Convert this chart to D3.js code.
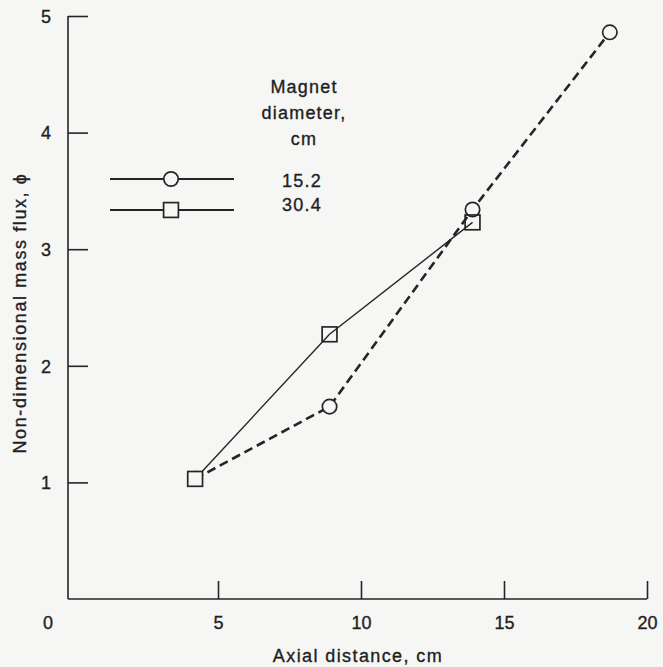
<!DOCTYPE html>
<html>
<head>
<meta charset="utf-8">
<script src="https://cdn.jsdelivr.net/npm/d3@7"></script>
<style>
  html, body { margin: 0; padding: 0; background: #f6f6f5; }
  svg { display: block; }
  text { font-family: "Liberation Sans", Arial, Helvetica, sans-serif; fill: #1f1f1f; stroke: #1f1f1f; stroke-width: 0.35px; }
</style>
</head>
<body>
<svg id="chart" width="663" height="667"></svg>
<script>
// Axial positions (cm) and non-dimensional mass flux for each magnet diameter
const seriesNames = ["15.2", "30.4"];
const axial152 = [4.2, 8.9, 13.9, 18.7];
const flux152  = [1.03, 1.65, 3.34, 4.86];
const axial304 = [4.2, 8.9, 13.9];
const flux304  = [1.03, 2.27, 3.23];

const xTicks = [5, 10, 15, 20];
const yTicks = [1, 2, 3, 4, 5];
const legendTitle = ["Magnet", "diameter,", "cm"];

const ink = "#252525";
const bg = "#f6f6f5";
const fontFamily = "'Liberation Sans', Arial, sans-serif";
const svg = d3.select("#chart");

const x = d3.scaleLinear().domain([0, 20]).range([75, 647]);
const y = d3.scaleLinear().domain([0, 5]).range([599, 16]);
const axisX = 68;   // left axis position
const axisY = 599;  // bottom axis position

// Left axis: ticks point into the plot
const gy = svg.append("g").attr("transform", `translate(${axisX},0)`)
  .call(d3.axisLeft(y).tickValues(yTicks).tickSizeInner(-20).tickSizeOuter(0).tickFormat(d3.format("d")));
gy.select(".domain").attr("d", `M0,${y(5)}V${axisY}`);
gy.selectAll(".tick text").attr("x", -17).attr("dy", "0.35em");

// Bottom axis: ticks point up
const gx = svg.append("g").attr("transform", `translate(0,${axisY})`)
  .call(d3.axisBottom(x).tickValues(xTicks).tickSizeInner(-18).tickSizeOuter(0).tickFormat(d3.format("d")));
gx.select(".domain").attr("d", `M${axisX},0H${x(20)}`);
gx.selectAll(".tick text").attr("y", 17).attr("dy", "0.71em");

svg.selectAll(".domain, .tick line").attr("stroke", ink).attr("stroke-width", 1.6);
svg.selectAll(".tick text").attr("fill", "#1f1f1f").attr("stroke", "#1f1f1f").attr("stroke-width", 0.35)
  .style("font-size", "18px").style("font-family", fontFamily);

// Shared origin label
svg.append("text").attr("x", axisX - 20).attr("y", axisY + 24)
  .attr("text-anchor", "middle").attr("dy", "0.35em")
  .style("font-size", "18px").text("0");

// Axis titles
svg.append("text").attr("x", 358).attr("y", 656)
  .attr("text-anchor", "middle").attr("dy", "0.35em")
  .style("font-size", "18px").style("letter-spacing", "1.4px")
  .text("Axial distance, cm");
svg.append("text").attr("transform", "translate(20,313) rotate(-90)")
  .attr("text-anchor", "middle").attr("dy", "0.35em")
  .style("font-size", "18px").style("letter-spacing", "1.6px")
  .text("Non-dimensional mass flux, \u03D5");

// Series lines
const line = d3.line().x(d => x(d[0])).y(d => y(d[1]));
const pts152 = d3.zip(axial152, flux152);
const pts304 = d3.zip(axial304, flux304);

svg.append("path").datum(pts304).attr("d", line)
  .attr("fill", "none").attr("stroke", ink).attr("stroke-width", 1.4);
svg.append("path").datum(pts152).attr("d", line)
  .attr("fill", "none").attr("stroke", ink).attr("stroke-width", 2.6)
  .attr("stroke-dasharray", "9,5");

// Markers
const r = 7.2, half = 7.4;
svg.selectAll(".c152").data(pts152).join("circle")
  .attr("cx", d => x(d[0])).attr("cy", d => y(d[1])).attr("r", r)
  .attr("fill", bg).attr("stroke", ink).attr("stroke-width", 1.7);
svg.selectAll(".s304").data(pts304).join("rect")
  .attr("x", d => x(d[0]) - half).attr("y", d => y(d[1]) - half)
  .attr("width", half * 2).attr("height", half * 2)
  .attr("fill", "none").attr("stroke", ink).attr("stroke-width", 1.7);
// the first square sits over the coincident circle
svg.select("rect").attr("fill", bg);

// Legend
const lg = svg.append("g");
legendTitle.forEach((t, i) => {
  lg.append("text").attr("x", 304).attr("y", 93 + i * 26)
    .attr("text-anchor", "middle").style("font-size", "18px").style("letter-spacing", "1.2px").text(t);
});
const legendRows = [{ name: seriesNames[0], shape: "circle", yy: 179, ty: 187 },
                    { name: seriesNames[1], shape: "square", yy: 210, ty: 211 }];
legendRows.forEach(rw => {
  lg.append("line").attr("x1", 110).attr("x2", 234).attr("y1", rw.yy).attr("y2", rw.yy)
    .attr("stroke", ink).attr("stroke-width", 2);
  if (rw.shape === "circle") {
    lg.append("circle").attr("cx", 171).attr("cy", rw.yy).attr("r", r)
      .attr("fill", bg).attr("stroke", ink).attr("stroke-width", 1.7);
  } else {
    lg.append("rect").attr("x", 171 - half).attr("y", rw.yy - half)
      .attr("width", half * 2).attr("height", half * 2)
      .attr("fill", bg).attr("stroke", ink).attr("stroke-width", 1.7);
  }
  lg.append("text").attr("x", 302).attr("y", rw.ty).attr("text-anchor", "middle")
    .style("font-size", "18px").style("letter-spacing", "1.2px").text(rw.name);
});
</script>
</body>
</html>
